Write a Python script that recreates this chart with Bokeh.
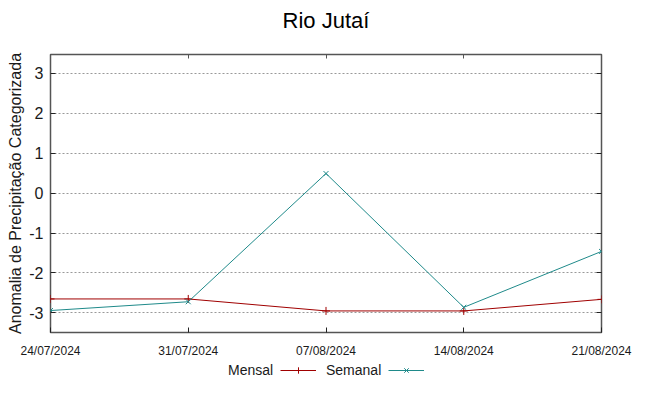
from bokeh.plotting import figure
from bokeh.layouts import column
from bokeh.models import (LinearAxis, FixedTicker, Legend, LegendItem, Range1d, Label)
from bokeh.embed import file_html
from bokeh.resources import INLINE

title_text = "Rio Jutaí"
dates = ["24/07/2024", "31/07/2024", "07/08/2024", "14/08/2024", "21/08/2024"]
mensal = [-2.65, -2.65, -2.95, -2.95, -2.66]
semanal = [-2.94, -2.72, 0.49, -2.86, -1.46]
y_ticks = [-3, -2, -1, 0, 1, 2, 3]
series_names = ["Mensal", "Semanal"]

RED = "#a00000"
TEAL = "#1f8a8a"
FONT = "Liberation Sans"
TXT = "#1a1a1a"

x = list(range(len(dates)))

# ---- title strip
tt = figure(width=633, height=38, output_backend="svg", toolbar_location=None,
            x_axis_type=None, y_axis_type=None, min_border=0,
            x_range=Range1d(0, 1), y_range=Range1d(0, 1))
tt.outline_line_color = None
tt.grid.grid_line_color = None
tt.add_layout(Label(x=0.5, y=0.47, text=title_text, text_align="center",
                    text_baseline="middle", text_font=FONT, text_font_size="22px",
                    text_color="#000000"))

# ---- main plot
p = figure(width=633, height=322, output_backend="svg", toolbar_location=None,
           x_range=Range1d(0, len(dates) - 1), y_range=Range1d(-3.49, 3.47),
           min_border_left=50, min_border_right=32, min_border_top=16, min_border_bottom=26)

p.outline_line_color = "#555555"
p.outline_line_width = 1.5
p.background_fill_color = "white"
p.border_fill_color = "white"

p.xaxis.ticker = FixedTicker(ticks=x)
p.xaxis.major_label_overrides = {i: d for i, d in enumerate(dates)}
p.yaxis.ticker = FixedTicker(ticks=y_ticks)
p.yaxis.major_label_overrides = {t: str(t) for t in y_ticks}
for ax in (p.xaxis[0], p.yaxis[0]):
    ax.axis_line_color = None
    ax.major_tick_in = 5
    ax.major_tick_out = 0
    ax.minor_tick_line_color = None
    ax.major_tick_line_color = "#222222"
    ax.major_label_text_font = FONT
    ax.major_label_text_color = TXT
p.xaxis.major_label_text_font_size = "12px"
p.xaxis.major_label_standoff = 11
p.yaxis.major_label_text_font_size = "16px"
p.yaxis.major_label_standoff = 7
p.yaxis.axis_label = "Anomalia de Precipitação Categorizada"
p.yaxis.axis_label_text_font = FONT
p.yaxis.axis_label_text_font_size = "16px"
p.yaxis.axis_label_text_font_style = "normal"
p.yaxis.axis_label_text_color = TXT
p.yaxis.axis_label_standoff = 2

ra = LinearAxis(ticker=FixedTicker(ticks=y_ticks),
                major_label_overrides={t: "" for t in y_ticks},
                axis_line_color=None, major_tick_in=5, major_tick_out=0,
                minor_tick_line_color=None, major_tick_line_color="#222222")
p.add_layout(ra, "right")
ta = LinearAxis(ticker=FixedTicker(ticks=x),
                major_label_overrides={i: "" for i in x},
                axis_line_color=None, major_tick_in=4, major_tick_out=0,
                minor_tick_line_color=None, major_tick_line_color="#555555",
                major_label_standoff=0)
p.add_layout(ta, "above")

p.xgrid.grid_line_color = None
p.ygrid.ticker = FixedTicker(ticks=y_ticks)
p.ygrid.grid_line_color = "#999999"
p.ygrid.grid_line_dash = "2 2"
p.ygrid.grid_line_width = 1

p.line(x, mensal, line_color=RED, line_width=1)
p.scatter(x, mensal, marker="cross", size=8, line_color=RED, line_width=1)
p.line(x, semanal, line_color=TEAL, line_width=1)
p.scatter(x, semanal, marker="x", size=7, line_color=TEAL, line_width=1)

# ---- legend strip (gnuplot style: name, then sample)
lg = figure(width=633, height=20, output_backend="svg", toolbar_location=None,
            x_axis_type=None, y_axis_type=None, min_border=0,
            x_range=Range1d(0, 1), y_range=Range1d(0, 1))
lg.outline_line_color = None
lg.grid.grid_line_color = None

# same series, outside this strip's visible range: only their legend samples show
e_m = lg.line(x, mensal, line_alpha=0)
e_s = lg.line(x, semanal, line_alpha=0)
s_ml = lg.line(x, mensal, line_color=RED, line_width=1)
s_mm = lg.scatter(x, mensal, marker="cross", size=8, line_color=RED, line_width=1)
s_sl = lg.line(x, semanal, line_color=TEAL, line_width=1)
s_sm = lg.scatter(x, semanal, marker="x", size=7, line_color=TEAL, line_width=1)

def mk_legend(label, rends, loc, gw):
    return Legend(items=[LegendItem(label=label, renderers=rends)],
                  location=loc, orientation="horizontal",
                  label_text_font=FONT, label_text_font_size="14px", label_text_color=TXT,
                  border_line_color=None, background_fill_alpha=0,
                  glyph_width=gw, glyph_height=16, label_height=16, label_standoff=0,
                  padding=0, margin=0, spacing=0)

lg.add_layout(mk_legend(series_names[0], [e_m], (178, 2), 0))
lg.add_layout(mk_legend("", [s_ml, s_mm], (230, 2), 36))
lg.add_layout(mk_legend(series_names[1], [e_s], (276, 2), 0))
lg.add_layout(mk_legend("", [s_sl, s_sm], (338, 2), 36))

layout = column(tt, p, lg, spacing=0)
open("out.html", "w").write(file_html(layout, INLINE))
